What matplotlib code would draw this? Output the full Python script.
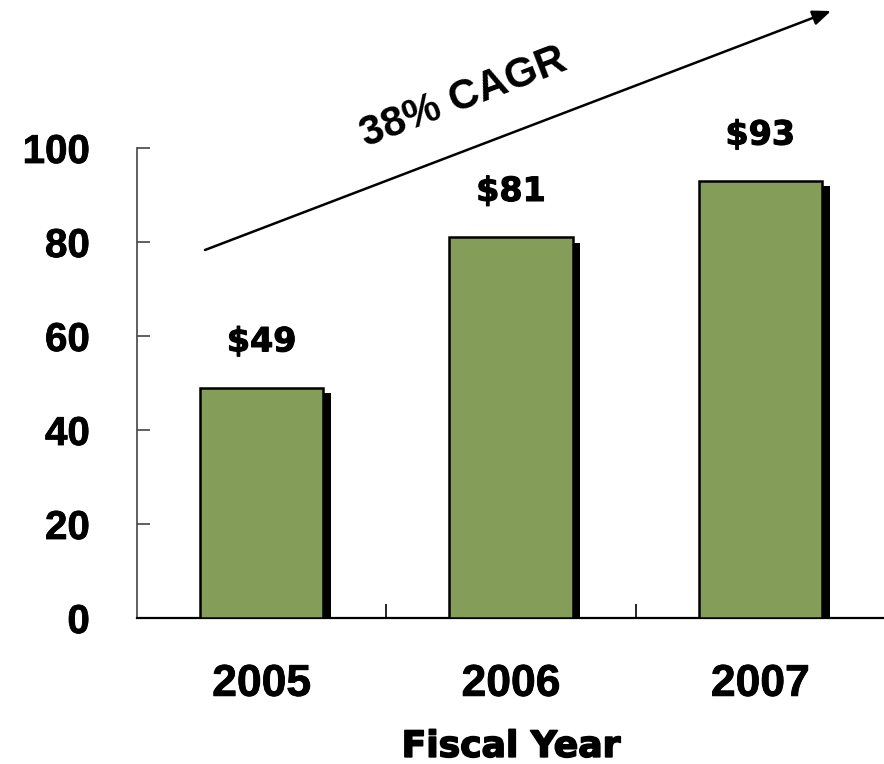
import matplotlib
matplotlib.use("Agg")
import matplotlib.pyplot as plt
import matplotlib.transforms as mtransforms
import matplotlib.patheffects as pe

years = ["2005", "2006", "2007"]
revenue = [49, 81, 93]
value_labels = ["$49", "$81", "$93"]
y_ticks = [0, 20, 40, 60, 80, 100]
cagr_text = "38% CAGR"
x_title = "Fiscal Year"

plt.rcParams['font.family'] = ['Liberation Sans', 'DejaVu Sans']
plt.rcParams['font.weight'] = 'bold'

fig = plt.figure(figsize=(8.84, 7.64), dpi=100)
ax = fig.add_axes([137/884, 1-618/764, (885-137)/884, (618-148)/764])

green = '#849E5A'
heavy = ['DejaVu Sans']
x = list(range(len(years)))
# shadow bars
shadow = ax.bar(x, revenue, width=0.495, color='black', edgecolor='black', linewidth=0, zorder=2)
off = mtransforms.ScaledTranslation(5.5/72, -4/72, fig.dpi_scale_trans)
for p in shadow:
    p.set_transform(ax.transData + off)
bars = ax.bar(x, revenue, width=0.495, color=green, edgecolor='black', linewidth=1.8, zorder=3)

for xi, v, lab in zip(x, revenue, value_labels):
    ax.annotate(lab, (xi, v), xytext=(0, 33), textcoords='offset points',
                ha='center', va='center', fontsize=24, fontweight='bold', family=heavy,
                path_effects=[pe.withStroke(linewidth=0.8, foreground='black')])

ax.set_xlim(-0.5, 2.5)
ax.set_ylim(0, 100)
ax.set_yticks(y_ticks)
ax.set_yticklabels([str(t) for t in y_ticks])
ax.tick_params(axis='y', direction='in', length=9.5, width=1.2, color='#444444',
               labelsize=29, pad=34)
ax.set_xticks([0.5, 1.5])
ax.set_xticklabels(['', ''])
ax.set_xticks(x, minor=True)
ax.set_xticklabels(years, minor=True)
ax.tick_params(axis='x', which='major', direction='in', length=10, width=1.2, color='black')
ax.tick_params(axis='x', which='minor', length=0, labelsize=32, pad=33)
for lab in ax.get_yticklabels() + ax.get_xticklabels(minor=True):
    lab.set_fontweight('bold')
    lab.set_path_effects([pe.withStroke(linewidth=0.6, foreground='black')])

ax.spines['top'].set_visible(False)
ax.spines['right'].set_visible(False)
ax.spines['left'].set_color('#444444')
ax.spines['left'].set_linewidth(1.2)
ax.spines['bottom'].set_linewidth(1.6)

ax.set_xlabel(x_title, fontsize=26, fontweight='bold', family=heavy, labelpad=18,
              path_effects=[pe.withStroke(linewidth=1.2, foreground='black')])

# CAGR arrow and text (figure pixel coordinates)
ax.annotate('', xy=(831, 764-11), xycoords='figure pixels',
            xytext=(205, 764-250), textcoords='figure pixels',
            arrowprops=dict(arrowstyle='-|>,head_length=1.1,head_width=0.45',
                            color='black', lw=1.8, shrinkA=0, shrinkB=0))
fig.text(464/884, 1-98/764, cagr_text, rotation=21, ha='center', va='center',
         fontsize=30, fontweight='bold', rotation_mode='anchor')

fig.savefig('out.png', dpi=100)
